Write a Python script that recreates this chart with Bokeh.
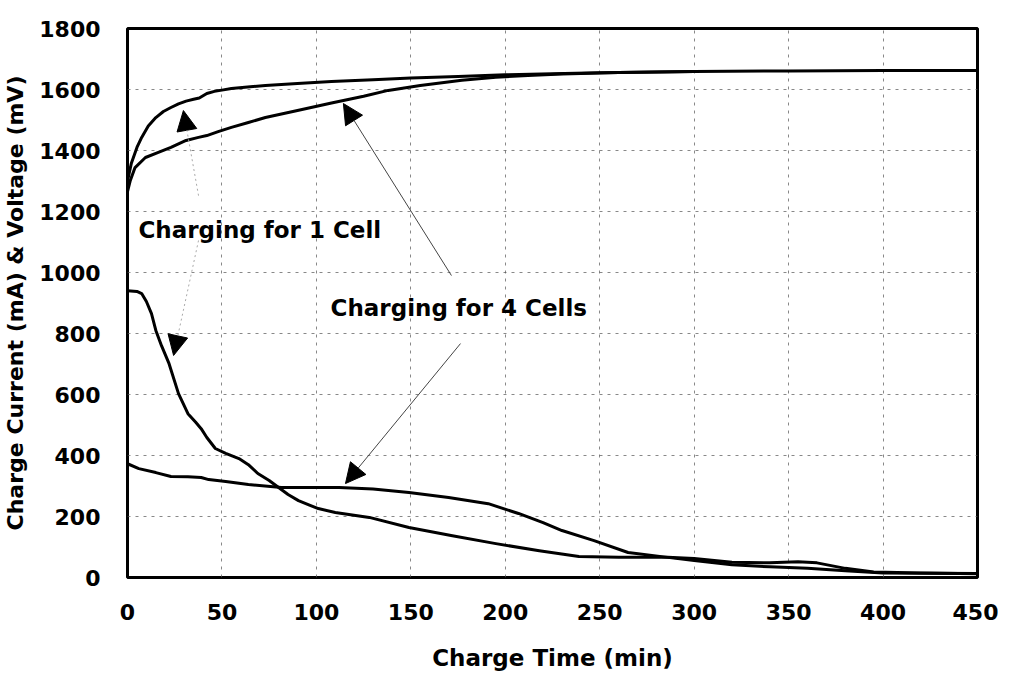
from bokeh.plotting import figure
from bokeh.models import Arrow, NormalHead, Label, FixedTicker, Range1d
from bokeh.embed import file_html
from bokeh.resources import INLINE

# ---- data ----
volt1_x = [0, 2, 5, 7.5, 11, 15, 19, 23, 27, 31, 35, 38, 42, 46, 50, 55, 65, 73, 90, 108,
           130, 150, 175, 200, 225, 250, 300, 350, 400, 450]
volt1_y = [1300, 1357, 1410, 1443, 1480, 1508, 1528, 1541, 1553, 1562, 1568, 1572, 1587, 1594,
           1598, 1603, 1609, 1613, 1620, 1626, 1632, 1638, 1643, 1648, 1652, 1655, 1659, 1661,
           1662, 1662]

volt4_x = [0, 1.5, 4, 9.5, 16, 23, 31, 37.6, 42, 48, 55, 64, 73, 90, 108, 125, 138, 155, 177,
           195, 212, 230, 260, 300]
volt4_y = [1265, 1302, 1344, 1377, 1393, 1410, 1433, 1443, 1449, 1462, 1476, 1492, 1508, 1531,
           1556, 1578, 1597, 1613, 1630, 1640, 1646, 1651, 1656, 1659]

cur1_x = [0, 5, 7.5, 10, 12.7, 15, 18, 22, 27, 32, 36, 39, 42, 46.5, 52, 59, 64, 69, 75, 80,
          85, 90.5, 96, 101, 110, 128, 149, 172, 195, 218, 239, 260, 286, 300, 320, 340, 355,
          365, 380, 395, 420, 450]
cur1_y = [940, 938, 931, 905, 865, 810, 760, 701, 603, 537, 510, 488, 459, 423, 407, 390, 370,
          341, 318, 295, 272, 252, 238, 226, 213, 197, 164, 137, 111, 88, 69, 66, 66, 62, 50,
          48, 52, 48, 30, 18, 15, 12]

cur4_x = [0, 6, 15, 23, 32, 39, 43, 52, 64, 81.5, 100, 112, 130, 149, 170, 191, 207, 220, 230,
          247, 265, 286, 300, 320, 340, 360, 380, 400, 450]
cur4_y = [373, 357, 344, 331, 330, 328, 321, 315, 305, 295, 295, 295, 290, 279, 262, 242, 210,
          180, 154, 121, 82, 66, 56, 42, 35, 30, 22, 15, 13]

x_ticks = [0, 50, 100, 150, 200, 250, 300, 350, 400, 450]
y_ticks = [0, 200, 400, 600, 800, 1000, 1200, 1400, 1600, 1800]

label_texts = ["Charging  for 1 Cell", "Charging for 4 Cells"]
label_x = [5.8, 107.5]
label_y = [1138, 882]

# arrows: (x_start, y_start, x_end, y_end)
arrows_1cell = [(37.6, 1252, 29.6, 1531), (37.6, 1105, 24.4, 728)]
arrows_4cell = [(171.5, 990, 114.3, 1554), (176.3, 767, 115.4, 308)]

FONT = "DejaVu Sans"

p = figure(frame_width=850, frame_height=549, output_backend="svg", toolbar_location=None,
           x_range=Range1d(0, 450), y_range=Range1d(0, 1800),
           min_border_left=123, min_border_top=28, min_border_right=21, min_border_bottom=95)
p.background_fill_color = "white"
p.border_fill_color = "white"
p.outline_line_color = "black"
p.outline_line_width = 3
p.outline_line_alpha = 1

for ax in (p.xaxis, p.yaxis):
    ax.axis_line_color = None
    ax.major_tick_line_color = None
    ax.minor_tick_line_color = None
    ax.major_label_text_font = FONT
    ax.major_label_text_font_style = "bold"
    ax.major_label_text_font_size = "22px"
    ax.major_label_text_color = "black"
    ax.axis_label_text_font = FONT
    ax.axis_label_text_font_style = "bold"
    ax.axis_label_text_color = "black"

p.xaxis.ticker = FixedTicker(ticks=x_ticks)
p.yaxis.ticker = FixedTicker(ticks=y_ticks)
p.xaxis.major_label_standoff = 20
p.yaxis.major_label_standoff = 21
p.xaxis.axis_label = "Charge Time (min)"
p.yaxis.axis_label = "Charge Current (mA) & Voltage (mV)"
p.xaxis.axis_label_text_font_size = "23px"
p.yaxis.axis_label_text_font_size = "22px"
p.xaxis.axis_label_standoff = 22
p.yaxis.axis_label_standoff = 8

for g in (p.xgrid, p.ygrid):
    g.grid_line_color = "#555555"
    g.grid_line_dash = "3 5"
    g.grid_line_width = 1
    g.grid_line_alpha = 0.7

for xs, ys in ((volt1_x, volt1_y), (volt4_x, volt4_y), (cur1_x, cur1_y), (cur4_x, cur4_y)):
    p.line(xs, ys, line_color="black", line_width=3, line_join="round")

for (xs, ys, xe, ye) in arrows_1cell:
    p.add_layout(Arrow(end=NormalHead(size=20, fill_color="black", line_color="black"),
                       x_start=xs, y_start=ys, x_end=xe, y_end=ye,
                       line_color="#aaaaaa", line_width=1, line_dash="2 3"))
for (xs, ys, xe, ye) in arrows_4cell:
    p.add_layout(Arrow(end=NormalHead(size=20, fill_color="black", line_color="black"),
                       x_start=xs, y_start=ys, x_end=xe, y_end=ye,
                       line_color="#444444", line_width=1))

for t, lx, ly in zip(label_texts, label_x, label_y):
    p.add_layout(Label(x=lx, y=ly, text=t, text_font=FONT, text_font_style="bold",
                       text_font_size="23px", text_color="black",
                       text_baseline="alphabetic", text_align="left"))

open("out.html", "w").write(file_html(p, INLINE))
